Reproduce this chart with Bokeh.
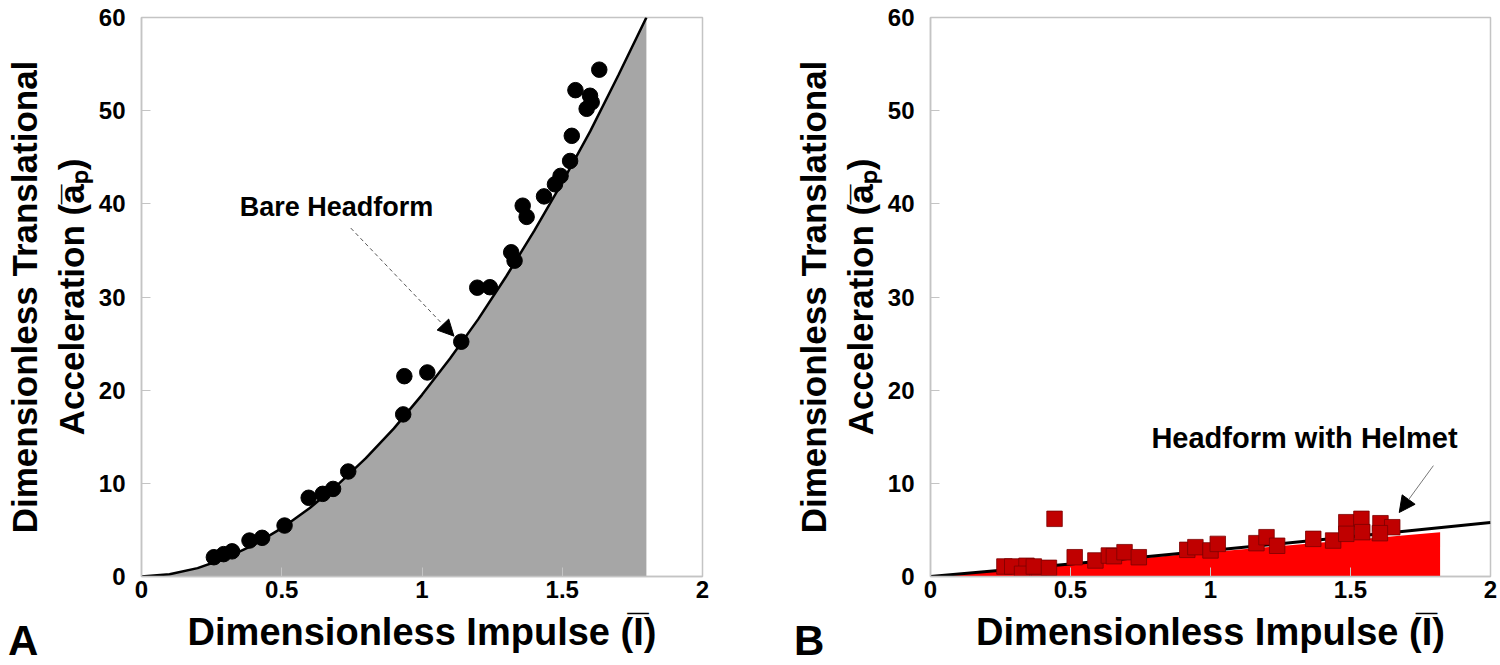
from bokeh.plotting import figure
from bokeh.layouts import row, column
from bokeh.models import Range1d, FixedTicker, Label, Arrow, NormalHead, Div
from bokeh.embed import file_html
from bokeh.resources import INLINE

# ---------------- data ----------------
x_ticks = [0, 0.5, 1, 1.5, 2]
x_tick_labels = ["0", "0.5", "1", "1.5", "2"]
y_ticks = [0, 10, 20, 30, 40, 50, 60]
y_tick_labels = ["0", "10", "20", "30", "40", "50", "60"]

# Panel A: bare headform measurements
bare_x = [0.258, 0.293, 0.323, 0.385, 0.43, 0.51, 0.596, 0.646, 0.683, 0.737,
          0.933, 0.937, 1.019, 1.14, 1.197, 1.242, 1.318, 1.33, 1.359, 1.373,
          1.435, 1.474, 1.494, 1.528, 1.534, 1.547, 1.587, 1.599, 1.605, 1.632]
bare_y = [2.07, 2.4, 2.7, 3.86, 4.15, 5.47, 8.45, 8.87, 9.4, 11.27,
          17.4, 21.5, 21.9, 25.2, 31.0, 31.05, 34.8, 33.9, 39.8, 38.6,
          40.8, 42.1, 43.0, 44.6, 47.3, 52.2, 50.2, 51.6, 50.9, 54.4]

# Panel A: fitted curve
bare_fit_x = [0, 0.1, 0.2, 0.3, 0.4, 0.5, 0.6, 0.7, 0.8, 0.9,
              1.0, 1.1, 1.2, 1.3, 1.4, 1.5, 1.6, 1.7, 1.8]
bare_fit_y = [0.0, 0.24, 0.9, 1.96, 3.39, 5.19, 7.35, 9.87, 12.7, 15.9,
              19.5, 23.4, 27.6, 32.2, 37.1, 42.3, 47.8, 53.8, 60.0]

# Panel B: headform with helmet measurements
helm_x = [0.443, 0.264, 0.292, 0.343, 0.327, 0.387, 0.369, 0.423, 0.515, 0.589,
          0.637, 0.655, 0.693, 0.744, 0.917, 0.946, 1.0, 1.026, 1.164, 1.2,
          1.238, 1.367, 1.438, 1.485, 1.539, 1.542, 1.485, 1.607, 1.649, 1.605]
helm_y = [6.19, 1.07, 1.07, 1.15, 0.29, 0.29, 1.07, 0.93, 2.07, 1.72,
          2.25, 2.18, 2.61, 2.07, 2.86, 3.15, 2.8, 3.5, 3.58, 4.22,
          3.3, 4.04, 3.86, 5.83, 6.19, 4.76, 4.58, 5.72, 5.29, 4.65]

# Panel B: fitted line and filled band
helm_fit_x = [0, 0.5, 1.0, 1.5, 2.0]
helm_fit_y = [0.0, 1.35, 2.78, 4.27, 5.8]
helm_band_x = [0, 1.82]
helm_band_top = [0, 4.76]
helm_band_bottom = [0, 0]

FONT = "Liberation Sans"
FRAME_GRAY = "#c4c4c4"
y_label_text = "Dimensionless Translational\nAcceleration (a\u0305\u209a)"
x_label_text = "Dimensionless Impulse (I\u0305)"


def make_fig(frame_w, left, right):
    p = figure(frame_width=frame_w, frame_height=559,
               x_range=Range1d(0, 2), y_range=Range1d(0, 60),
               output_backend="svg", toolbar_location=None,
               min_border_left=left, min_border_right=right,
               min_border_top=17, min_border_bottom=86)
    p.xgrid.visible = False
    p.ygrid.visible = False
    p.outline_line_color = FRAME_GRAY
    p.outline_line_width = 1.5
    p.background_fill_color = "white"
    p.border_fill_color = "white"

    for ax in (p.xaxis[0], p.yaxis[0]):
        ax.axis_line_color = FRAME_GRAY
        ax.axis_line_width = 1.5
        ax.major_tick_in = 9
        ax.major_tick_out = 0
        ax.major_tick_line_color = FRAME_GRAY
        ax.minor_tick_line_color = None
        ax.major_label_text_font = FONT
        ax.major_label_text_font_style = "bold"
        ax.major_label_text_font_size = "24px"
        ax.major_label_text_color = "black"
        ax.axis_label_text_font = FONT
        ax.axis_label_text_font_style = "bold"
        ax.axis_label_text_color = "black"

    p.xaxis[0].axis_label_text_font_size = "38px"
    p.yaxis[0].axis_label_text_font_size = "35px"
    p.xaxis[0].ticker = FixedTicker(ticks=x_ticks)
    p.xaxis[0].major_label_overrides = dict(zip(x_ticks, x_tick_labels))
    p.yaxis[0].ticker = FixedTicker(ticks=y_ticks)
    p.yaxis[0].major_label_overrides = dict(zip(y_ticks, y_tick_labels))
    p.xaxis[0].axis_label = x_label_text
    p.yaxis[0].axis_label = y_label_text
    p.xaxis[0].major_label_standoff = 4
    p.yaxis[0].major_label_standoff = 16
    p.xaxis[0].axis_label_standoff = 10
    p.yaxis[0].axis_label_standoff = 5
    return p


def panel_letter(letter, left):
    style = {"font-family": FONT, "font-weight": "bold", "font-size": "42px",
             "line-height": "48px", "color": "black"}
    return Div(text=letter, width=44, height=48, margin=(-45, 0, 0, left), styles=style)


# ---------------- Panel A ----------------
p1 = make_fig(561, 141, 86)
p1.varea(x=bare_fit_x, y1=[0] * len(bare_fit_x), y2=bare_fit_y, fill_color="#a6a6a6")
p1.line(bare_fit_x, bare_fit_y, line_color="black", line_width=2.5)
p1.scatter(bare_x, bare_y, marker="circle", size=15.5, fill_color="black", line_color="black")
p1.add_layout(Label(x=0.35, y=39.7, text="Bare Headform", text_font=FONT,
                    text_font_style="bold", text_font_size="27px", text_baseline="middle",
                    text_align="left", text_color="black"))
p1.add_layout(Arrow(x_start=0.746, y_start=37.4, x_end=1.114, y_end=25.8,
                    line_color="#555555", line_width=1, line_dash="4 3",
                    end=NormalHead(size=16, fill_color="black", line_color="black")))

# ---------------- Panel B ----------------
p2 = make_fig(560, 142, 8)
p2.varea(x=helm_band_x, y1=helm_band_bottom, y2=helm_band_top, fill_color="#ff0000")
p2.line(helm_fit_x, helm_fit_y, line_color="black", line_width=3)
p2.scatter(helm_x, helm_y, marker="square", size=15.5, fill_color="#c00000",
           line_color="#7a0000", line_width=0.8)
p2.add_layout(Label(x=0.789, y=14.9, text="Headform with Helmet", text_font=FONT,
                    text_font_style="bold", text_font_size="29px", text_baseline="middle",
                    text_align="left", text_color="black"))
p2.add_layout(Arrow(x_start=1.796, y_start=11.9, x_end=1.674, y_end=6.87,
                    line_color="#777777", line_width=1,
                    end=NormalHead(size=16, fill_color="black", line_color="black")))

layout = row(column(p1, panel_letter("A", 8)), column(p2, panel_letter("B", 6)))
open("out.html", "w").write(file_html(layout, INLINE))
